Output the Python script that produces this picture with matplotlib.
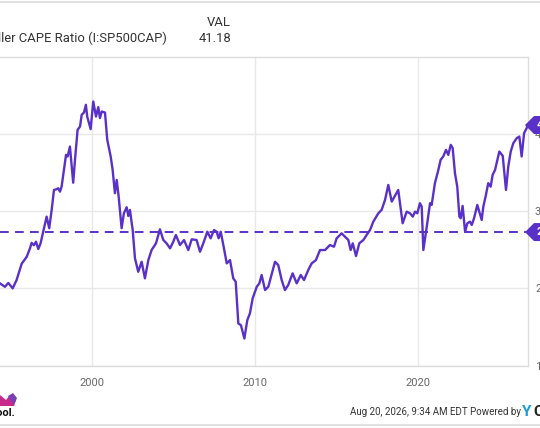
import numpy as np
import matplotlib.pyplot as plt
from matplotlib.patches import Polygon
from matplotlib.transforms import ScaledTranslation

# Shiller CAPE ratio (decimal year, value)
years = [1994.34, 1994.64, 1994.85, 1995.12, 1995.36, 1995.67, 1995.98, 1996.18, 1996.28, 1996.42,
         1996.55, 1996.69, 1996.83, 1996.99, 1997.20, 1997.36, 1997.51, 1997.65, 1997.82, 1997.91,
         1998.02, 1998.12, 1998.26, 1998.39, 1998.49, 1998.63, 1998.74, 1998.83, 1998.94, 1999.10,
         1999.25, 1999.35, 1999.49, 1999.61, 1999.69, 1999.90, 2000.06, 2000.23, 2000.37, 2000.47,
         2000.58, 2000.78, 2000.92, 2001.13, 2001.25, 2001.39, 2001.50, 2001.62, 2001.80, 2001.94,
         2002.11, 2002.21, 2002.31, 2002.48, 2002.62, 2002.82, 2003.03, 2003.23, 2003.44, 2003.64,
         2003.91, 2004.15, 2004.36, 2004.56, 2004.77, 2004.97, 2005.13, 2005.38, 2005.63, 2005.89,
         2006.10, 2006.40, 2006.61, 2006.81, 2007.06, 2007.26, 2007.47, 2007.63, 2007.75, 2007.88,
         2008.04, 2008.25, 2008.45, 2008.65, 2008.80, 2008.96, 2009.12, 2009.33, 2009.51, 2009.67,
         2009.84, 2010.09, 2010.25, 2010.39, 2010.60, 2010.80, 2011.07, 2011.21, 2011.41, 2011.62,
         2011.82, 2012.02, 2012.29, 2012.54, 2012.79, 2012.99, 2013.25, 2013.46, 2013.72, 2013.97,
         2014.28, 2014.58, 2014.83, 2014.99, 2015.30, 2015.50, 2015.71, 2015.85, 2015.98, 2016.18,
         2016.38, 2016.63, 2016.83, 2017.04, 2017.24, 2017.55, 2017.75, 2017.96, 2018.16, 2018.37,
         2018.77, 2019.04, 2019.29, 2019.49, 2019.66, 2019.80, 2019.94, 2020.10, 2020.21, 2020.31,
         2020.52, 2020.72, 2020.82, 2021.02, 2021.23, 2021.37, 2021.53, 2021.70, 2021.84, 2021.99,
         2022.11, 2022.25, 2022.39, 2022.52, 2022.60, 2022.72, 2022.87, 2023.01, 2023.17, 2023.28,
         2023.42, 2023.62, 2023.89, 2023.99, 2024.15, 2024.29, 2024.44, 2024.56, 2024.71, 2024.85,
         2024.97, 2025.18, 2025.38, 2025.52, 2025.67, 2025.83, 2026.04, 2026.20, 2026.34, 2026.49,
         2026.65, 2026.70]
cape = [20.65, 20.20, 20.70, 20.00, 21.10, 23.20, 24.10, 25.20, 25.90, 25.60,
        26.05, 25.10, 25.85, 27.35, 29.30, 27.80, 30.17, 32.76, 32.86, 32.99,
        32.54, 33.20, 35.36, 37.31, 37.10, 38.39, 35.80, 33.70, 36.66, 40.56,
        40.99, 42.50, 42.80, 43.80, 42.28, 40.65, 44.23, 42.28, 43.50, 42.08,
        42.93, 42.80, 39.26, 37.10, 35.36, 32.34, 34.06, 31.90, 27.80, 29.74,
        30.52, 29.39, 30.17, 27.57, 23.90, 22.15, 23.45, 21.30, 23.67, 24.97,
        25.84, 27.66, 26.27, 25.84, 25.19, 26.05, 26.92, 25.62, 26.27, 24.97,
        26.36, 26.27, 24.75, 25.84, 27.35, 26.49, 27.57, 27.35, 26.49, 27.35,
        25.62, 23.24, 23.67, 21.30, 20.86, 15.45, 15.23, 13.50, 15.88, 16.75,
        18.70, 20.21, 20.65, 21.73, 19.78, 20.21, 22.38, 23.45, 23.02, 21.08,
        19.78, 20.43, 21.95, 20.65, 21.73, 21.08, 22.38, 23.24, 23.67, 24.97,
        24.97, 25.62, 25.40, 26.49, 27.14, 26.70, 26.27, 24.97, 25.84, 24.19,
        25.84, 26.27, 26.92, 27.57, 28.65, 29.74, 30.17, 31.47, 33.41, 31.25,
        32.76, 28.44, 29.95, 29.74, 29.30, 29.95, 29.74, 31.04, 30.60, 24.97,
        28.00, 31.04, 30.82, 33.64, 35.36, 36.66, 37.10, 37.96, 37.31, 38.61,
        38.18, 34.93, 33.19, 29.30, 29.09, 30.69, 27.35, 28.44, 28.65, 28.22,
        29.09, 30.82, 28.87, 30.60, 32.12, 33.64, 33.19, 34.71, 35.36, 36.66,
        37.74, 37.18, 32.76, 35.80, 37.74, 38.83, 39.48, 39.69, 37.10, 40.13,
        40.78, 41.18]
avg_line = 27.3
x_ticks = [2000, 2010, 2020]
y_ticks = [10, 20, 30, 40]

purple = '#5a31c8'
grid_c = '#e8e8e8'
text_c = '#666666'

plt.rcParams['font.family'] = ['Roboto', 'DejaVu Sans']

fig = plt.figure(figsize=(5.4, 4.28), dpi=100)
ax = fig.add_axes([0.0, 1 - 365.5/428, 528/540, (365.5 - 57)/428])

ax.plot(years, cape, color=purple, lw=1.7, solid_joinstyle='round', zorder=3)
ax.axhline(avg_line, color=purple, lw=1.4, ls=(0, (4.5, 3.2)), zorder=3)

ax.set_xlim(1994.34, 2026.73)
ax.set_ylim(10, 50)
ax.set_xticks(x_ticks)
ax.set_yticks(y_ticks)
ax.yaxis.tick_right()
ax.tick_params(axis='both', length=0, colors=text_c, labelsize=8)
ax.tick_params(axis='x', pad=9)
ax.tick_params(axis='y', pad=5)
ax.grid(True, color=grid_c, lw=1)
ax.set_axisbelow(True)
ax.spines['left'].set_visible(False)
for side in ['top', 'right', 'bottom']:
    ax.spines[side].set_color('#dcdcdc')
    ax.spines[side].set_linewidth(1)

# value tags at the right edge
def tag(val, label):
    tr = fig.dpi_scale_trans + ScaledTranslation(1, val, ax.get_yaxis_transform())
    pts = [(-0.03, 0), (0.06, 0.09), (0.4, 0.09), (0.4, -0.09), (0.06, -0.09)]
    ax.add_patch(Polygon(pts, closed=True, transform=tr, fc=purple, ec='none',
                         clip_on=False, zorder=6))
    ax.text(0.09, 0, label, transform=tr, color='white', fontsize=8, fontweight='bold',
            va='center', ha='left', clip_on=False, zorder=7)

tag(cape[-1], '41.18')
tag(avg_line, '27.30')

# header
fig.add_artist(plt.Line2D([0, 1], [1 - 1.5/428, 1 - 1.5/428], color='#dcdcdc', lw=1.2))
fig.text(167/540, 1 - 38/428, 'Shiller CAPE Ratio (I:SP500CAP)', ha='right', va='center',
         fontsize=9.4, color='#333333')
fig.text(231/540, 1 - 22/428, 'VAL', ha='right', va='center', fontsize=9.4, color='#333333')
fig.text(231/540, 1 - 38/428, '41.18', ha='right', va='center', fontsize=9.4, color='#333333')

# footer
fig.add_artist(plt.Line2D([0, 1], [1 - 425/428, 1 - 425/428], color='#dcdcdc', lw=1.2))
fig.text(521/540, 1 - 412/428, 'Aug 20, 2026, 9:34 AM EDT Powered by', ha='right', va='center',
         fontsize=7, color='#333333', family=['Liberation Sans Narrow', 'Roboto'])
fig.text(522/540, 1 - 412/428, 'Y', ha='left', va='center', fontsize=11, fontweight='bold',
         color='#1e9be0')
fig.text(533/540, 1 - 412/428, 'C', ha='left', va='center', fontsize=11, fontweight='bold',
         color='#222222')
# Motley Fool jester logo, cropped at the left edge
fig.text(15/540, 1 - 413/428, 'Fool.', ha='right', va='center', fontsize=8, fontweight='bold',
         color='#111111')
hat = [(0, 395), (6, 400), (10, 395), (16, 400), (14, 406), (0, 406)]
fig.add_artist(Polygon([(x/540, 1 - y/428) for x, y in hat], closed=True,
                       transform=fig.transFigure, fc='#c62a8a', ec='none'))
fig.add_artist(Polygon([(x/540, 1 - y/428) for x, y in [(8, 396), (13, 393), (17, 398), (14, 405)]],
                       closed=True, transform=fig.transFigure, fc='#7b3fb5', ec='none'))

fig.savefig('out.png', dpi=100, facecolor='white')
